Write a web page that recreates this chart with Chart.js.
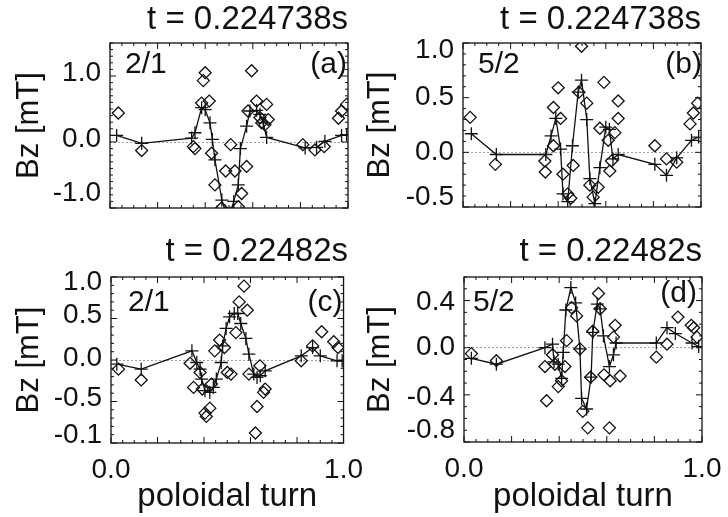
<!DOCTYPE html>
<html>
<head>
<meta charset="utf-8">
<title>Bz versus poloidal turn</title>
<script src="https://cdn.jsdelivr.net/npm/chart.js@4/dist/chart.umd.min.js"></script>
<style>
  html, body { margin: 0; padding: 0; background: #fff; }
  body { width: 728px; height: 517px; position: relative; overflow: hidden; }
  canvas { position: absolute; }
</style>
</head>
<body>
<canvas id="panel-a" width="356" height="225" style="left:0px;top:0px"></canvas>
<canvas id="panel-b" width="368" height="225" style="left:360px;top:0px"></canvas>
<canvas id="panel-c" width="368" height="292" style="left:0px;top:225px"></canvas>
<canvas id="panel-d" width="368" height="292" style="left:360px;top:225px"></canvas>
<script>
var ink = '#111'
var fontFamily = '"Liberation Sans", Arial, Helvetica, sans-serif'

var titleEarly = 't = 0.224738s'
var titleLate = 't = 0.22482s'
var xAxisTitle = 'poloidal turn'
var yAxisTitle = 'Bz [mT]'

var xTicks = [0, 1]
var xTickLabels = ['0.0', '1.0']

// (a) 2/1 at t = 0.224738s
var aCrossX = [0.028, 0.133, 0.343, 0.357, 0.385, 0.40, 0.42, 0.43, 0.441, 0.47, 0.485, 0.505, 0.52, 0.539, 0.548, 0.574, 0.588, 0.616, 0.63, 0.644, 0.658, 0.82, 0.868, 0.903, 0.973, 0.994]
var aCrossY = [0.10, -0.02, 0.06, 0.14, 0.52, 0.49, 0.29, 0.04, -0.27, -0.88, -1.05, -1.08, -0.90, -0.65, -0.10, 0.24, 0.47, 0.48, 0.42, 0.29, 0.07, -0.09, -0.08, 0.01, 0.10, 0.11]
var aDiamondX = [0.035, 0.133, 0.35, 0.357, 0.385, 0.392, 0.40, 0.417, 0.427, 0.441, 0.469, 0.486, 0.507, 0.525, 0.539, 0.553, 0.574, 0.58, 0.595, 0.616, 0.63, 0.637, 0.651, 0.658, 0.665, 0.81, 0.861, 0.90, 0.96, 0.973, 0.994]
var aDiamondY = [0.44, -0.13, -0.07, -0.10, 0.59, 0.93, 1.05, 0.62, -0.17, -0.65, -1.0, -0.44, -0.04, -0.44, -0.98, -0.78, -0.37, 0.47, 1.08, 0.62, 0.37, 0.29, 0.26, 0.57, 0.34, -0.04, -0.12, -0.07, 0.36, 0.47, 0.57]
var aTicks = [-1, 0, 1]
var aTickLabels = ['-1.0', '0.0', '1.0']

// (b) 5/2 at t = 0.224738s
var bCrossX = [0.035, 0.14, 0.348, 0.37, 0.39, 0.41, 0.42, 0.44, 0.46, 0.484, 0.498, 0.52, 0.533, 0.554, 0.575, 0.60, 0.615, 0.63, 0.652, 0.806, 0.855, 0.898, 0.96, 0.99]
var bCrossY = [0.17, -0.02, -0.02, 0.15, 0.31, 0.03, -0.38, -0.45, 0.06, 0.55, 0.66, 0.30, -0.24, -0.47, -0.14, 0.23, 0.21, -0.06, -0.02, -0.11, -0.21, -0.05, 0.11, 0.14]
var bDiamondX = [0.03, 0.136, 0.344, 0.346, 0.38, 0.38, 0.40, 0.41, 0.42, 0.44, 0.453, 0.463, 0.487, 0.498, 0.52, 0.533, 0.547, 0.568, 0.575, 0.592, 0.61, 0.617, 0.624, 0.638, 0.652, 0.652, 0.806, 0.855, 0.898, 0.954, 0.968, 0.986]
var bDiamondY = [0.32, -0.11, -0.08, -0.18, 0.06, 0.41, 0.59, 0.31, -0.20, -0.38, -0.42, -0.12, 0.55, 0.97, 0.45, -0.30, -0.41, -0.32, 0.22, 0.64, 0.11, -0.17, -0.08, 0.18, 0.47, 0.31, 0.06, -0.06, -0.09, 0.26, 0.36, 0.45]
var bTicks = [-0.5, 0, 0.5, 1]
var bTickLabels = ['-0.5', '0.0', '0.5', '1.0']

// (c) 2/1 at t = 0.22482s
var cCrossX = [0.025, 0.13, 0.348, 0.369, 0.383, 0.39, 0.404, 0.425, 0.44, 0.453, 0.474, 0.48, 0.495, 0.51, 0.53, 0.545, 0.558, 0.58, 0.593, 0.614, 0.628, 0.642, 0.663, 0.818, 0.867, 0.90, 0.972, 0.994]
var cCrossY = [-0.05, -0.11, 0.11, -0.03, -0.11, -0.23, -0.37, -0.39, -0.33, -0.23, -0.03, 0.17, 0.38, 0.52, 0.56, 0.56, 0.44, 0.26, 0.07, -0.17, -0.21, -0.19, -0.13, 0.05, 0.15, 0.05, -0.01, -0.01]
var cDiamondX = [0.032, 0.13, 0.34, 0.355, 0.383, 0.393, 0.404, 0.41, 0.425, 0.432, 0.446, 0.467, 0.488, 0.50, 0.516, 0.537, 0.551, 0.572, 0.586, 0.593, 0.621, 0.628, 0.64, 0.656, 0.663, 0.818, 0.867, 0.906, 0.958, 0.976]
var cDiamondY = [-0.11, -0.24, -0.04, -0.33, -0.15, -0.35, -0.64, -0.68, -0.58, -0.29, 0.11, 0.24, 0.15, -0.15, -0.17, 0.33, 0.70, 0.89, 0.60, -0.17, -0.88, -0.56, -0.07, -0.39, -0.35, -0.01, 0.17, 0.34, 0.22, 0.15]
var cTicks = [-1, -0.5, 0, 0.5, 1]
var cTickLabels = ['-0.1', '-0.5', '0.0', '0.5', '1.0']

// (d) 5/2 at t = 0.22482s
var dCrossX = [0.031, 0.136, 0.34, 0.372, 0.378, 0.396, 0.41, 0.417, 0.428, 0.449, 0.469, 0.487, 0.494, 0.515, 0.534, 0.541, 0.56, 0.572, 0.586, 0.611, 0.628, 0.639, 0.808, 0.853, 0.888, 0.958, 0.986]
var dCrossY = [-0.09, -0.14, 0.0, 0.03, -0.12, -0.14, -0.26, -0.04, 0.32, 0.51, 0.38, -0.01, -0.43, -0.52, -0.25, 0.13, 0.37, 0.33, 0.10, -0.16, -0.06, 0.04, 0.04, 0.17, 0.12, 0.04, 0.01]
var dDiamondX = [0.031, 0.136, 0.34, 0.347, 0.372, 0.382, 0.396, 0.41, 0.424, 0.431, 0.452, 0.473, 0.487, 0.499, 0.52, 0.532, 0.541, 0.565, 0.572, 0.588, 0.611, 0.614, 0.628, 0.635, 0.656, 0.808, 0.853, 0.899, 0.955, 0.965, 0.979]
var dDiamondY = [-0.05, -0.11, -0.16, -0.45, -0.06, -0.14, -0.33, -0.28, -0.16, 0.06, 0.34, 0.27, -0.01, -0.54, -0.68, -0.25, 0.14, 0.46, 0.33, -0.23, -0.68, -0.28, 0.09, 0.19, -0.24, -0.08, 0.03, 0.26, 0.19, 0.17, 0.09]
var dTicks = [-0.8, -0.4, 0, 0.4]
var dTickLabels = ['-0.8', '-0.4', '0.0', '0.4']

var Panels = (function () {

  function points (xs, ys) {
    return xs.map(function (x, i) { return { x: x, y: ys[i] } })
  }

  function steps (min, max, step) {
    var out = []
    var k = Math.ceil(min / step - 1e-9)
    for (; k * step <= max + 1e-9; k++) out.push(k * step)
    return out
  }

  // box frame, inward tick marks and the corner labels
  var framePlugin = {
    id: 'frame',
    beforeDraw: function (chart, args, opts) {
      // the edge labels of the original sit a little inside the frame
      chart.scales.y.getLabelItems().forEach(function (item, i) {
        if (item.nudged) return
        item.options.translation[1] += opts.nudge[i] || 0
        item.nudged = true
      })
    },
    afterDatasetsDraw: function (chart, args, opts) {
      var ctx = chart.ctx
      var a = chart.chartArea
      var xs = chart.scales.x
      var ys = chart.scales.y
      ctx.save()
      ctx.strokeStyle = ink
      ctx.lineWidth = 1.3
      ctx.strokeRect(a.left, a.top, a.right - a.left, a.bottom - a.top)

      ctx.lineWidth = 1
      ctx.beginPath()
      steps(0, 1, 0.05).forEach(function (v, i) {
        var px = xs.getPixelForValue(v)
        var len = i % 4 === 0 ? 6 : 3
        ctx.moveTo(px, a.bottom); ctx.lineTo(px, a.bottom - len)
        ctx.moveTo(px, a.top); ctx.lineTo(px, a.top + len)
      })
      steps(ys.min, ys.max, 0.1).forEach(function (v) {
        var py = ys.getPixelForValue(v)
        var major = opts.major.some(function (m) { return Math.abs(m - v) < 1e-6 })
        var len = major ? 6 : 3
        ctx.moveTo(a.left, py); ctx.lineTo(a.left + len, py)
        ctx.moveTo(a.right, py); ctx.lineTo(a.right - len, py)
      })
      ctx.stroke()

      ctx.fillStyle = ink
      ctx.font = '30px ' + fontFamily
      ctx.textBaseline = 'middle'
      ctx.textAlign = 'left'
      ctx.fillText(opts.mode, a.left + opts.modeDx, a.top + opts.modeDy)
      ctx.textAlign = 'right'
      ctx.fillText(opts.tag, a.right + opts.tagDx, a.top + opts.tagDy)
      ctx.restore()
    }
  }

  function buildPanel (p) {
    var canvas = document.getElementById(p.id)
    var tickFont = { family: fontFamily, size: 28, lineHeight: 1.0 }

    return new Chart(canvas, {
      type: 'scatter',
      data: {
        datasets: [
          {
            data: points(p.crossX, p.crossY),
            showLine: true,
            borderColor: ink,
            borderWidth: 1.3,
            tension: 0,
            pointStyle: 'cross',
            pointRadius: 6.5,
            pointBorderWidth: 1.3,
            pointBorderColor: ink
          },
          {
            data: points(p.diamondX, p.diamondY),
            showLine: false,
            pointStyle: 'rectRot',
            pointRadius: 6,
            pointBorderWidth: 1.3,
            pointBorderColor: ink,
            pointBackgroundColor: 'rgba(0,0,0,0)'
          }
        ]
      },
      options: {
        responsive: false,
        animation: false,
        devicePixelRatio: 1,
        events: [],
        layout: { padding: { left: 0, right: p.padRight, top: 0, bottom: 0 } },
        plugins: {
          legend: { display: false },
          tooltip: { enabled: false },
          title: {
            display: true,
            text: p.title,
            align: 'end',
            color: ink,
            font: { family: fontFamily, size: 33, weight: 'normal', lineHeight: 1.2 },
            padding: { top: p.titleTop, bottom: p.titleBottom }
          },
          frame: {
            mode: p.mode, tag: p.tag, major: p.yTicks, nudge: p.labelNudge,
            modeDx: p.modeDx, modeDy: p.modeDy, tagDx: p.tagDx, tagDy: p.tagDy
          }
        },
        scales: {
          x: {
            type: 'linear',
            min: 0,
            max: 1,
            grid: { display: false },
            border: { display: false },
            afterBuildTicks: function (scale) {
              scale.ticks = xTicks.map(function (v) { return { value: v } })
            },
            ticks: {
              display: p.showX,
              padding: 5,
              maxRotation: 0,
              color: ink,
              font: tickFont,
              callback: function (v, i) { return xTickLabels[i] }
            },
            title: {
              display: p.showX,
              text: xAxisTitle,
              color: ink,
              font: { family: fontFamily, size: 33, lineHeight: 1.2 },
              padding: { top: 0, bottom: 0 }
            },
            afterFit: function (scale) { scale.height = p.xHeight }
          },
          y: {
            type: 'linear',
            min: p.yMin,
            max: p.yMax,
            grid: {
              drawTicks: false,
              lineWidth: 1,
              color: function (c) { return c.tick && c.tick.value === 0 ? '#a0a0a0' : 'rgba(0,0,0,0)' }
            },
            border: { display: false, dash: [2, 2] },
            afterBuildTicks: function (scale) {
              scale.ticks = p.yTicks.map(function (v) { return { value: v } })
            },
            ticks: {
              padding: 9,
              color: ink,
              font: tickFont,
              callback: function (v, i) { return p.yLabels[i] }
            },
            title: {
              display: true,
              text: yAxisTitle,
              color: ink,
              font: { family: fontFamily, size: 31, lineHeight: 1.2 },
              padding: { top: p.yTitlePad, bottom: 0 }
            },
            afterFit: function (scale) {
              scale.width = p.yWidth
              // edge labels may hang over the frame, as in the original
              scale.paddingTop = 0
              scale.paddingBottom = 0
            }
          }
        }
      },
      plugins: [framePlugin]
    })
  }

  function init () {
    buildPanel({
      id: 'panel-a', title: titleEarly, mode: '2/1', tag: '(a)',
      crossX: aCrossX, crossY: aCrossY, diamondX: aDiamondX, diamondY: aDiamondY,
      yMin: -1, yMax: 1.5, yTicks: aTicks, yLabels: aTickLabels, labelNudge: [-15, -3, -3],
      showX: false, padRight: 8, yWidth: 110, xHeight: 17,
      titleTop: 0, titleBottom: 3.4, yTitlePad: 11,
      modeDx: 15, modeDy: 22, tagDx: -1, tagDy: 22
    })
    buildPanel({
      id: 'panel-b', title: titleEarly, mode: '5/2', tag: '(b)',
      crossX: bCrossX, crossY: bCrossY, diamondX: bDiamondX, diamondY: bDiamondY,
      yMin: -0.5, yMax: 1.0, yTicks: bTicks, yLabels: bTickLabels, labelNudge: [-10, 0, 0, 7],
      showX: false, padRight: 27, yWidth: 103, xHeight: 18,
      titleTop: 0, titleBottom: 3.4, yTitlePad: 1.4,
      modeDx: 15, modeDy: 22, tagDx: 1, tagDy: 22
    })
    buildPanel({
      id: 'panel-c', title: titleLate, mode: '2/1', tag: '(c)',
      crossX: cCrossX, crossY: cCrossY, diamondX: cDiamondX, diamondY: cDiamondY,
      yMin: -1, yMax: 1, yTicks: cTicks, yLabels: cTickLabels, labelNudge: [-8, -3, -2, -3, 5],
      showX: true, padRight: 20, yWidth: 111, xHeight: 74,
      titleTop: 7.2, titleBottom: 5.2, yTitlePad: 11,
      modeDx: 17, modeDy: 26, tagDx: -1, tagDy: 26
    })
    buildPanel({
      id: 'panel-d', title: titleLate, mode: '5/2', tag: '(d)',
      crossX: dCrossX, crossY: dCrossY, diamondX: dDiamondX, diamondY: dDiamondY,
      yMin: -0.8, yMax: 0.6, yTicks: dTicks, yLabels: dTickLabels, labelNudge: [-12, 2, 0, 2],
      showX: true, padRight: 26, yWidth: 104, xHeight: 75,
      titleTop: 7.2, titleBottom: 5.2, yTitlePad: 1.4,
      modeDx: 9, modeDy: 26, tagDx: -5, tagDy: 17
    })
  }

  return {
    init: init
  }

})()

Panels.init()
</script>
</body>
</html>
